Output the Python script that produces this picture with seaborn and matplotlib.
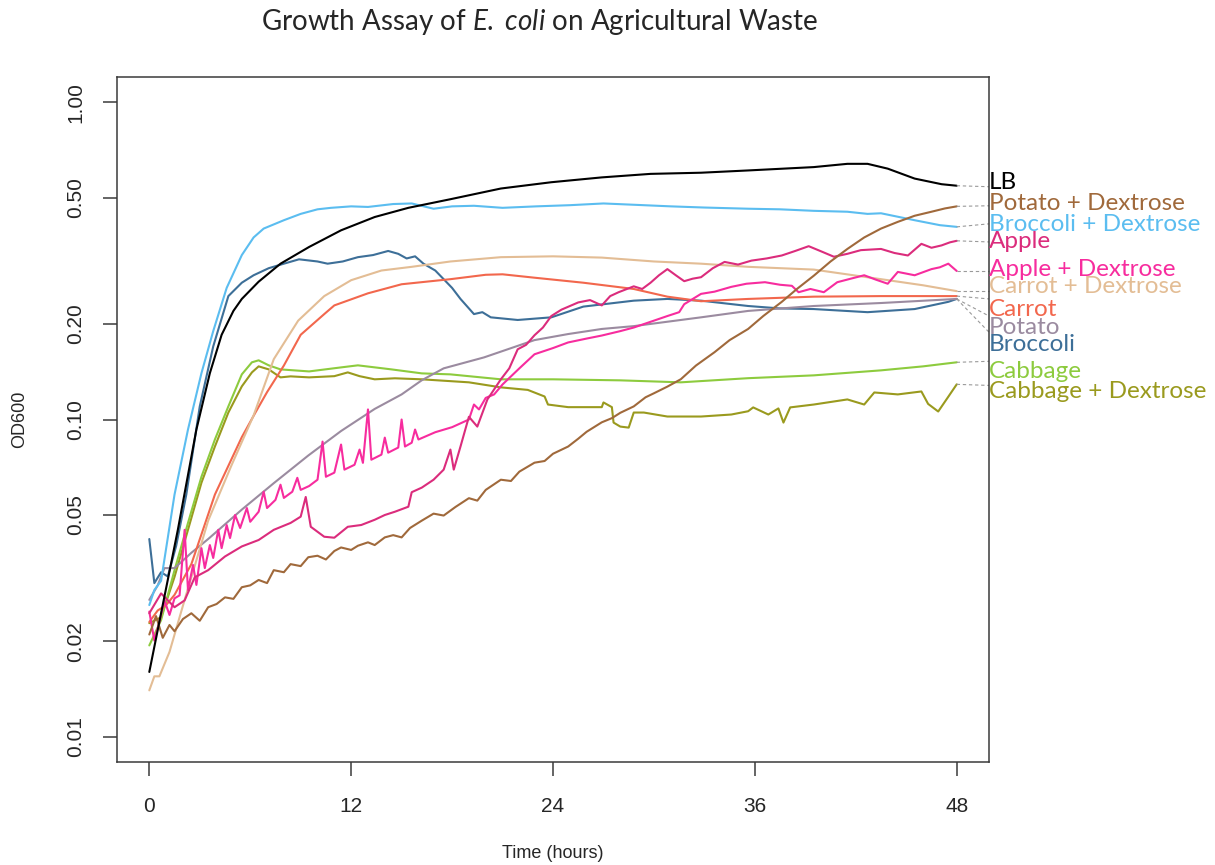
import matplotlib
matplotlib.use("Agg")
import matplotlib.pyplot as plt
from matplotlib import font_manager
from matplotlib.ticker import NullLocator
import pandas as pd
import seaborn as sns

# OD600 readings per medium (time in hours)
lb_t = [0, 0.7, 1.7, 2.8, 3.6, 4.3, 5.0, 5.5, 6.5, 7.8, 9.5, 11.4, 13.4, 15.4, 17.9, 20.9, 23.9, 26.9,
        29.8, 32.8, 35.6, 39.5, 41.5, 42.7, 43.9, 45.5, 47.1, 48]
lb_od = [0.016, 0.0245, 0.045, 0.093, 0.14, 0.185, 0.22, 0.24, 0.272, 0.31, 0.35, 0.395, 0.435, 0.465,
         0.495, 0.535, 0.56, 0.58, 0.595, 0.60, 0.61, 0.625, 0.64, 0.64, 0.618, 0.575, 0.552, 0.546]

bd_t = [0, 0.3, 0.7, 1.5, 2.3, 3.1, 3.8, 4.6, 5.5, 6.2, 6.8, 8.0, 9.0, 10.0, 10.8, 12.0, 13.0, 14.5, 15.6,
        16.9, 18.0, 19.3, 21.0, 23.0, 25.0, 27.0, 29.0, 31.0, 33.0, 35.6, 37.5, 39.5, 41.5, 42.7, 43.5,
        45.5, 47.0, 48.0]
bd_od = [0.026, 0.029, 0.031, 0.058, 0.093, 0.14, 0.19, 0.26, 0.33, 0.375, 0.40, 0.425, 0.445, 0.46,
         0.465, 0.47, 0.468, 0.478, 0.48, 0.462, 0.47, 0.472, 0.465, 0.47, 0.474, 0.48, 0.475, 0.47,
         0.466, 0.462, 0.46, 0.455, 0.452, 0.445, 0.447, 0.425, 0.41, 0.405]

br_t = [0, 0.3, 0.7, 1.1, 1.6, 2.2, 3.0, 3.8, 4.7, 5.5, 6.2, 7.1, 8.0, 8.9, 10.0, 10.6, 11.5, 12.4, 13.3,
        14.2, 14.8, 15.3, 15.8, 16.3, 17.0, 17.5, 18.0, 18.5, 19.3, 19.8, 20.3, 21.9, 23.9, 25.8, 28.8,
        30.8, 32.8, 35.6, 37.5, 39.5, 42.7, 45.5, 47.5, 48.0]
br_od = [0.042, 0.0305, 0.033, 0.032, 0.04, 0.058, 0.11, 0.17, 0.245, 0.27, 0.285, 0.30, 0.31, 0.32,
         0.315, 0.31, 0.315, 0.325, 0.33, 0.34, 0.333, 0.322, 0.327, 0.31, 0.295, 0.277, 0.26, 0.24,
         0.215, 0.218, 0.21, 0.206, 0.21, 0.227, 0.237, 0.24, 0.237, 0.228, 0.224, 0.223, 0.218, 0.223,
         0.235, 0.24]

cd_t = [0, 0.3, 0.6, 1.2, 2.1, 3.5, 4.9, 6.2, 7.4, 8.85, 10.4, 12.0, 13.8, 15.6, 17.9, 20.9, 24.0, 26.9,
        30.0, 32.8, 35.6, 39.5, 43.5, 46.0, 48.0]
cd_od = [0.014, 0.0155, 0.0155, 0.0185, 0.027, 0.048, 0.072, 0.103, 0.155, 0.205, 0.245, 0.275, 0.295,
         0.303, 0.315, 0.325, 0.327, 0.324, 0.315, 0.31, 0.303, 0.297, 0.277, 0.265, 0.254]

ca_t = [0, 0.5, 1.0, 1.5, 2.5, 3.9, 5.5, 6.3, 7.0, 8.0, 9.0, 10.4, 11.0, 13.0, 15.0, 17.9, 20.0, 21.0,
        22.9, 25.8, 28.8, 30.8, 32.8, 35.6, 39.5, 43.5, 48.0]
ca_od = [0.023, 0.025, 0.026, 0.028, 0.035, 0.058, 0.088, 0.105, 0.122, 0.148, 0.185, 0.215, 0.229,
         0.25, 0.267, 0.277, 0.286, 0.287, 0.28, 0.27, 0.258, 0.244, 0.236, 0.24, 0.244, 0.245, 0.245]

po_t = [0, 0.5, 0.9, 1.5, 2.5, 3.5, 5.5, 7.4, 9.45, 11.4, 13.4, 15.0, 16.2, 17.5, 19.9, 22.9, 24.9, 26.9,
        28.8, 32.8, 35.6, 39.5, 43.5, 48.0]
po_od = [0.027, 0.030, 0.034, 0.034, 0.038, 0.042, 0.052, 0.063, 0.077, 0.092, 0.108, 0.12, 0.133,
         0.145, 0.157, 0.178, 0.186, 0.193, 0.197, 0.21, 0.22, 0.228, 0.233, 0.24]

pd_t = [0, 0.4, 0.8, 1.2, 1.5, 2.0, 2.5, 3.0, 3.5, 4.0, 4.5, 5.0, 5.5, 6.0, 6.5, 7.0, 7.4, 8.0, 8.4, 9.0,
        9.45, 10.0, 10.5, 11.0, 11.4, 12.0, 12.4, 13.0, 13.4, 14.0, 14.5, 15.0, 15.5, 16.2, 16.9, 17.5,
        18.2, 19.0, 19.5, 20.0, 20.9, 21.5, 22.0, 22.9, 23.5, 24.0, 24.9, 25.5, 26.0, 26.9, 27.5, 28.0,
        28.8, 29.5, 30.0, 30.8, 31.6, 32.5, 33.6, 34.5, 35.6, 36.5, 37.6, 38.5, 39.5, 40.5, 41.5, 42.5,
        43.5, 44.5, 45.5, 46.5, 47.3, 48.0]
pd_od = [0.021, 0.024, 0.0205, 0.0225, 0.0215, 0.0235, 0.0245, 0.0232, 0.0256, 0.0262, 0.0275, 0.0272,
         0.0296, 0.0300, 0.0312, 0.0305, 0.0335, 0.0330, 0.0350, 0.0345, 0.0368, 0.0372, 0.0362, 0.0385,
         0.0395, 0.0388, 0.0400, 0.0410, 0.0402, 0.0425, 0.0432, 0.0425, 0.0455, 0.048, 0.0505, 0.0498,
         0.053, 0.0565, 0.0555, 0.060, 0.0646, 0.0640, 0.0685, 0.0731, 0.0740, 0.078, 0.0822, 0.087,
         0.0915, 0.098, 0.101, 0.105, 0.110, 0.1175, 0.121, 0.127, 0.134, 0.148, 0.163, 0.178, 0.193,
         0.212, 0.235, 0.258, 0.284, 0.315, 0.345, 0.375, 0.40, 0.42, 0.439, 0.452, 0.463, 0.47]

ap_t = [0, 0.7, 1.5, 2.1, 2.7, 3.5, 4.5, 5.5, 6.5, 7.4, 8.4, 9.0, 9.3, 9.6, 10.4, 11.0, 11.8, 12.6, 13.4,
        14.0, 14.6, 15.4, 15.6, 16.2, 16.9, 17.5, 17.9, 18.1, 18.5, 19.0, 19.5, 20.1, 20.9, 21.4, 21.9,
        22.4, 22.9, 23.4, 23.9, 24.5, 25.5, 26.2, 26.9, 27.4, 27.9, 28.8, 29.3, 29.8, 30.3, 30.8, 31.3,
        31.8, 32.3, 32.8, 33.5, 34.2, 35.0, 35.8, 36.7, 37.6, 38.4, 39.2, 40.0, 40.7, 41.5, 42.3, 43.5,
        44.3, 45.1, 45.9, 46.5, 47.1, 47.6, 48]
ap_od = [0.0245, 0.0283, 0.0256, 0.0269, 0.0318, 0.0335, 0.037, 0.0398, 0.0417, 0.0449, 0.0472, 0.0494,
         0.057, 0.0459, 0.0427, 0.0424, 0.0459, 0.0465, 0.0483, 0.050, 0.0512, 0.0531, 0.059, 0.061,
         0.0646, 0.0695, 0.0804, 0.0695, 0.0822, 0.102, 0.095, 0.1157, 0.1339, 0.145, 0.1665, 0.172,
         0.1844, 0.195, 0.212, 0.222, 0.234, 0.238, 0.229, 0.245, 0.252, 0.263, 0.258, 0.27, 0.285,
         0.298, 0.285, 0.273, 0.278, 0.281, 0.300, 0.314, 0.308, 0.317, 0.322, 0.329, 0.34, 0.352,
         0.338, 0.326, 0.333, 0.342, 0.345, 0.335, 0.329, 0.358, 0.348, 0.354, 0.362, 0.366]

ad_t = [0, 0.3, 0.6, 0.9, 1.2, 1.5, 1.8, 2.1, 2.3, 2.6, 2.8, 3.1, 3.3, 3.6, 3.8, 4.1, 4.3, 4.6, 4.8, 5.1,
        5.4, 5.8, 6.0, 6.5, 6.8, 7.0, 7.5, 7.8, 8.0, 8.5, 8.8, 9.0, 9.5, 10.0, 10.3, 10.5, 11.0, 11.4,
        11.6, 12.2, 12.5, 12.7, 13.0, 13.2, 13.8, 14.0, 14.2, 14.8, 15.0, 15.2, 15.6, 15.8, 16.0, 17.0,
        18.0, 19.0, 19.3, 19.6, 20.0, 20.5, 21.0, 22.0, 22.9, 24.0, 24.9, 26.0, 26.9, 28.0, 28.8, 30.0,
        30.8, 31.5, 31.8, 32.8, 33.6, 34.6, 35.5, 36.6, 37.5, 38.2, 38.6, 39.3, 40.1, 40.9, 41.7, 42.5,
        43.2, 43.9, 44.5, 45.5, 46.5, 47.0, 47.5, 48.0]
ad_od = [0.0248, 0.0201, 0.023, 0.0269, 0.0242, 0.0273, 0.0279, 0.0449, 0.029, 0.0348, 0.0301, 0.0393,
         0.034, 0.0402, 0.0366, 0.0449, 0.0393, 0.0465, 0.0423, 0.050, 0.0455, 0.0526, 0.0476, 0.0512,
         0.0592, 0.0526, 0.0558, 0.0623, 0.0566, 0.0592, 0.0655, 0.060, 0.0617, 0.0646, 0.0852, 0.066,
         0.068, 0.0834, 0.0695, 0.072, 0.0804, 0.073, 0.1076, 0.0747, 0.0775, 0.0877, 0.0786, 0.0816,
         0.100, 0.0822, 0.0845, 0.093, 0.0865, 0.0912, 0.0946, 0.100, 0.1115, 0.1076, 0.117, 0.120,
         0.129, 0.145, 0.1606, 0.168, 0.175, 0.18, 0.184, 0.19, 0.195, 0.205, 0.212, 0.218, 0.231,
         0.249, 0.253, 0.262, 0.268, 0.271, 0.266, 0.264, 0.252, 0.258, 0.252, 0.271, 0.278, 0.285,
         0.276, 0.268, 0.292, 0.285, 0.298, 0.302, 0.31, 0.294]

cb_t = [0, 0.7, 1.5, 2.3, 3.1, 3.9, 4.7, 5.5, 6.1, 6.5, 7.1, 7.8, 9.5, 11.4, 12.4, 14.4, 16.2, 17.9, 20.9,
        24.0, 28.0, 31.6, 35.6, 39.5, 43.5, 46.0, 47.5, 48.0]
cb_od = [0.0194, 0.0233, 0.0335, 0.0472, 0.066, 0.0865, 0.110, 0.1388, 0.1515, 0.1537, 0.1482, 0.1439,
         0.1418, 0.146, 0.1482, 0.1439, 0.1398, 0.1388, 0.1339, 0.1339, 0.1329, 0.131, 0.135, 0.1378,
         0.1429, 0.1471, 0.1504, 0.1515]

cx_t = [0, 0.7, 1.5, 2.3, 3.1, 3.9, 4.7, 5.5, 6.1, 6.5, 7.1, 7.8, 8.4, 9.5, 11.0, 11.8, 12.5, 13.4, 14.6,
        16.2, 19.0, 20.9, 22.5, 23.5, 23.7, 24.9, 26.9, 27.0, 27.5, 27.6, 28.0, 28.5, 28.8, 29.4, 30.8,
        32.8, 34.6, 35.6, 35.9, 36.8, 37.4, 37.7, 38.1, 39.5, 41.5, 42.5, 43.1, 44.5, 45.9, 46.3, 46.9,
        47.5, 48.0]
cx_od = [0.0228, 0.0238, 0.0319, 0.0449, 0.0632, 0.0822, 0.1052, 0.1272, 0.1408, 0.1471, 0.1439, 0.1358,
         0.1368, 0.1358, 0.137, 0.1408, 0.137, 0.1339, 0.1349, 0.1339, 0.131, 0.1263, 0.124, 0.1182,
         0.1115, 0.1094, 0.1094, 0.1132, 0.1094, 0.0978, 0.095, 0.0943, 0.1052, 0.1052, 0.1022, 0.1022,
         0.1037, 0.1062, 0.1092, 0.1037, 0.1084, 0.0978, 0.1092, 0.1115, 0.1157, 0.1115, 0.1217, 0.12,
         0.1226, 0.112, 0.106, 0.118, 0.1291]

# labels from top to bottom, as placed at the right margin
names = ["LB", "Potato + Dextrose", "Broccoli + Dextrose", "Apple", "Apple + Dextrose",
         "Carrot + Dextrose", "Carrot", "Potato", "Broccoli", "Cabbage", "Cabbage + Dextrose"]
series_t = [lb_t, pd_t, bd_t, ap_t, ad_t, cd_t, ca_t, po_t, br_t, cb_t, cx_t]
series_od = [lb_od, pd_od, bd_od, ap_od, ad_od, cd_od, ca_od, po_od, br_od, cb_od, cx_od]
colors = ["#000000", "#A0693B", "#5BBDF0", "#DB2C7C", "#F72C9E",
          "#E3BD95", "#F2674D", "#9B8BA0", "#3D6F98", "#8DCB3E", "#9A9A1E"]
label_od = [0.558, 0.479, 0.411, 0.363, 0.298, 0.262, 0.223, 0.1955, 0.1727, 0.1418, 0.1226]
leader_od = [0.542, 0.472, 0.414, 0.363, 0.294, 0.254, 0.24, 0.212, 0.1885, 0.1526, 0.1281]

y_ticks = [0.01, 0.02, 0.05, 0.10, 0.20, 0.50, 1.00]
x_ticks = [0, 12, 24, 36, 48]

df = pd.concat([pd.DataFrame({"time": t, "od": od, "sample": n})
                for n, t, od in zip(names, series_t, series_od)], ignore_index=True)

sns.set_style("ticks")
plt.rcParams["font.family"] = ["Liberation Sans", "DejaVu Sans"]
plt.rcParams["mathtext.fontset"] = "custom"
plt.rcParams["mathtext.rm"] = "Lato"
plt.rcParams["mathtext.it"] = "Lato:italic"

installed = {f.name for f in font_manager.fontManager.ttflist}
narrow = "Liberation Sans Narrow" if "Liberation Sans Narrow" in installed else "Liberation Sans"

fig = plt.figure(figsize=(12.15, 8.65), dpi=100)
ax = fig.add_axes([0.0963, 0.119, 0.7177, 0.792])

draw_order = names[::-1]
sns.lineplot(data=df, x="time", y="od", hue="sample", hue_order=draw_order,
             palette=dict(zip(names, colors)), estimator=None, legend=False,
             linewidth=1.5, ax=ax)

ax.set_yscale("log")
ax.set_xlim(-1.92, 49.92)
ax.set_ylim(10 ** -2.08, 10 ** 0.08)
ax.set_xticks(x_ticks)
ax.set_xticklabels([str(v) for v in x_ticks], fontsize=15, family=narrow)
ax.set_yticks(y_ticks)
ax.set_yticklabels([f"{v:.2f}" for v in y_ticks], rotation=90, va="center", fontsize=15)
ax.yaxis.set_minor_locator(NullLocator())
ax.tick_params(axis="both", direction="out", length=10, width=1.1, color="#3a3a3a")
ax.tick_params(axis="y", pad=13)
ax.tick_params(axis="x", pad=15)
ax.set_xlabel("")
ax.set_ylabel("")
for sp in ax.spines.values():
    sp.set_color("#3a3a3a")
    sp.set_linewidth(1.1)

# leader lines and labels on the right
x_edge = ax.get_xlim()[1]
for n, t, od, c, ly, le in zip(names, series_t, series_od, colors, label_od, leader_od):
    ax.plot([t[-1], x_edge], [od[-1], le], ls=(0, (3, 2.5)), color="#9a9a9a",
            lw=0.8, clip_on=False)
    ax.text(x_edge, ly, n, color=c, fontsize=17.5, family="Lato", ha="left", va="center",
            clip_on=False)

fig.text(540 / 1215, 1 - 22 / 865,
         r"Growth Assay of $\it{E.}$ $\it{coli}$ on Agricultural Waste",
         ha="center", va="center", fontsize=20, family="Lato")
fig.text(553 / 1215, 1 - 853 / 865, "Time (hours)", ha="center", va="center",
         fontsize=13, family=narrow)
fig.text(20 / 1215, 1 - 419 / 865, "OD600", ha="center", va="center", rotation=90, fontsize=13)

fig.savefig("out.png", dpi=100)
